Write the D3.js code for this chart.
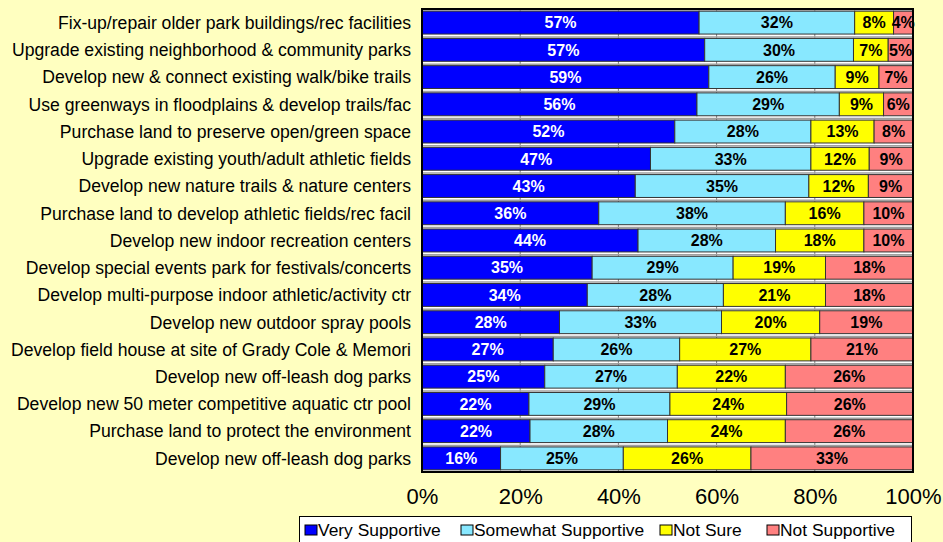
<!DOCTYPE html>
<html>
<head>
<meta charset="utf-8">
<script src="https://cdn.jsdelivr.net/npm/d3@7"></script>
<style>
  body { margin: 0; background: #FFFFC0; }
  svg { display: block; font-family: Arial, "Liberation Sans", sans-serif; }
</style>
</head>
<body>
<svg id="chart" width="943" height="542"></svg>
<script>
// survey items, top to bottom
var categories = [
  'Fix-up/repair older park buildings/rec facilities',
  'Upgrade existing neighborhood & community parks',
  'Develop new & connect existing walk/bike trails',
  'Use greenways in floodplains & develop trails/fac',
  'Purchase land to preserve open/green space ',
  'Upgrade existing youth/adult athletic fields',
  'Develop new nature trails & nature centers',
  'Purchase land to develop athletic fields/rec facil',
  'Develop new indoor recreation centers',
  'Develop special events park for festivals/concerts',
  'Develop multi-purpose indoor athletic/activity ctr',
  'Develop new outdoor spray pools',
  'Develop field house at site of Grady Cole & Memori',
  'Develop new off-leash dog parks',
  'Develop new 50 meter competitive aquatic ctr pool',
  'Purchase land to protect the environment',
  'Develop new off-leash dog parks'
];

var seriesNames = ['Very Supportive', 'Somewhat Supportive', 'Not Sure', 'Not Supportive'];

var verySupportive     = [57, 57, 59, 56, 52, 47, 43, 36, 44, 35, 34, 28, 27, 25, 22, 22, 16];
var somewhatSupportive = [32, 30, 26, 29, 28, 33, 35, 38, 28, 29, 28, 33, 26, 27, 29, 28, 25];
var notSure            = [ 8,  7,  9,  9, 13, 12, 12, 16, 18, 19, 21, 20, 27, 22, 24, 24, 26];
var notSupportive      = [ 4,  5,  7,  6,  8,  9,  9, 10, 10, 18, 18, 19, 21, 26, 26, 26, 33];

var tickValues = [0, 0.2, 0.4, 0.6, 0.8, 1];

var colors = ['#0000FF', '#88E8FF', '#FFFF00', '#FF8080'];
var labelColors = ['#FFFFFF', '#000000', '#000000', '#000000'];

var plot = { left: 422, right: 913, top: 9, bottom: 472 };

var rows = categories.map(function (c, i) {
  return {
    idx: i,
    name: c,
    'Very Supportive': verySupportive[i],
    'Somewhat Supportive': somewhatSupportive[i],
    'Not Sure': notSure[i],
    'Not Supportive': notSupportive[i]
  };
});

var stacked = d3.stack()
  .keys(seriesNames)
  .offset(d3.stackOffsetExpand)(rows);

var x = d3.scaleLinear().domain([0, 1]).range([plot.left, plot.right]);
var y = d3.scaleBand()
  .domain(rows.map(function (d) { return d.idx; }))
  .range([plot.top, plot.bottom])
  .paddingInner(0.16)
  .paddingOuter(0.08);

var svg = d3.select('#chart');

// plot background
svg.append('rect')
  .attr('x', plot.left).attr('y', plot.top)
  .attr('width', plot.right - plot.left).attr('height', plot.bottom - plot.top)
  .attr('fill', '#FFFFFF');

// gridlines
svg.append('g').selectAll('line')
  .data(tickValues.slice(1, -1))
  .enter().append('line')
  .attr('x1', function (d) { return x(d); })
  .attr('x2', function (d) { return x(d); })
  .attr('y1', plot.top).attr('y2', plot.bottom)
  .attr('stroke', '#808080').attr('stroke-width', 1);

// little grey shadow lines above each bar
svg.append('g').selectAll('line')
  .data(rows)
  .enter().append('line')
  .attr('x1', plot.left).attr('x2', plot.right)
  .attr('y1', function (d) { return y(d.idx) - 1.5; })
  .attr('y2', function (d) { return y(d.idx) - 1.5; })
  .attr('stroke', '#A0A0A0').attr('stroke-width', 1.5);

var layers = svg.append('g').selectAll('g')
  .data(stacked)
  .enter().append('g')
  .attr('fill', function (d, i) { return colors[i]; });

layers.selectAll('rect')
  .data(function (d) { return d; })
  .enter().append('rect')
  .attr('x', function (d) { return x(d[0]); })
  .attr('y', function (d) { return y(d.data.idx); })
  .attr('width', function (d) { return x(d[1]) - x(d[0]); })
  .attr('height', y.bandwidth())
  .attr('stroke', '#333333')
  .attr('stroke-width', 1);

// value labels
layers.each(function (layer, li) {
  d3.select(this).selectAll('text')
    .data(layer)
    .enter().append('text')
    .attr('x', function (d) { return (x(d[0]) + x(d[1])) / 2; })
    .attr('y', function (d) { return y(d.data.idx) + y.bandwidth() / 2; })
    .attr('dy', '0.36em')
    .attr('text-anchor', 'middle')
    .attr('font-size', 16)
    .attr('font-weight', 'bold')
    .attr('fill', labelColors[li])
    .text(function (d) { return d.data[layer.key] + '%'; });
});

// plot border
svg.append('rect')
  .attr('x', plot.left).attr('y', plot.top)
  .attr('width', plot.right - plot.left).attr('height', plot.bottom - plot.top)
  .attr('fill', 'none').attr('stroke', '#000').attr('stroke-width', 2);

// category labels
svg.append('g').selectAll('text')
  .data(rows)
  .enter().append('text')
  .attr('x', 411)
  .attr('y', function (d) { return y(d.idx) + y.bandwidth() / 2; })
  .attr('dy', '0.36em')
  .attr('text-anchor', 'end')
  .attr('font-size', 17.6)
  .attr('fill', '#000')
  .text(function (d) { return d.name; });

// x axis
var xAxis = d3.axisBottom(x)
  .tickValues(tickValues)
  .tickFormat(d3.format('.0%'))
  .tickSize(0)
  .tickPadding(16);

var gx = svg.append('g')
  .attr('transform', 'translate(0,' + plot.bottom + ')')
  .call(xAxis);
gx.select('.domain').remove();
gx.selectAll('text')
  .attr('font-size', 22)
  .attr('font-family', 'Arial, "Liberation Sans", sans-serif')
  .attr('fill', '#000');

// legend
var legend = svg.append('g');
legend.append('rect')
  .attr('x', 299.5).attr('y', 516.5)
  .attr('width', 612).attr('height', 27)
  .attr('fill', '#FFFFFF').attr('stroke', '#000').attr('stroke-width', 1);

var legendX = [305, 461, 660, 767];
var items = legend.selectAll('g.item')
  .data(seriesNames)
  .enter().append('g')
  .attr('class', 'item')
  .attr('transform', function (d, i) { return 'translate(' + legendX[i] + ',530)'; });

items.append('rect')
  .attr('x', 0).attr('y', -5)
  .attr('width', 12).attr('height', 10)
  .attr('fill', function (d, i) { return colors[i]; })
  .attr('stroke', '#000').attr('stroke-width', 1);

items.append('text')
  .attr('x', 13).attr('y', 0)
  .attr('dy', '0.36em')
  .attr('font-size', 17.4)
  .attr('fill', '#000')
  .text(function (d) { return d; });
</script>
</body>
</html>
